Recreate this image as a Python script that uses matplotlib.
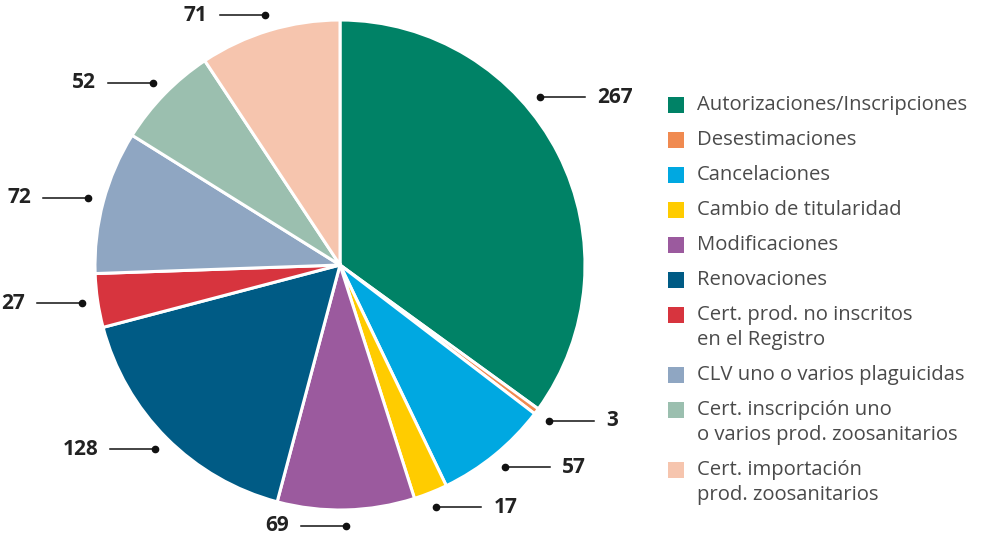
import matplotlib.pyplot as plt
import numpy as np
from matplotlib.patches import Rectangle

categorias = [
    "Autorizaciones/Inscripciones",
    "Desestimaciones",
    "Cancelaciones",
    "Cambio de titularidad",
    "Modificaciones",
    "Renovaciones",
    "Cert. prod. no inscritos\nen el Registro",
    "CLV uno o varios plaguicidas",
    "Cert. inscripción uno\no varios prod. zoosanitarios",
    "Cert. importación\nprod. zoosanitarios",
]
valores = [267, 3, 57, 17, 69, 128, 27, 72, 52, 71]
colores = ["#008266", "#F08A50", "#00A8E1", "#FFCC00", "#9B5A9E",
           "#005B85", "#D7343E", "#8FA6C2", "#9BBFAF", "#F6C5AE"]

W, H = 983, 539
fig = plt.figure(figsize=(W / 100, H / 100), dpi=100)
ax = fig.add_axes([0, 0, 1, 1])

cx, cy, R = 340, H - 265, 245
wedges, _ = ax.pie(valores, colors=colores, startangle=90, counterclock=False,
                   center=(cx, cy), radius=R, frame=True,
                   wedgeprops=dict(edgecolor="white", linewidth=2.2))
ax.set_xlim(0, W)
ax.set_ylim(0, H)
ax.set_aspect("equal")
ax.axis("off")

# etiquetas de valores
for i, (w, v) in enumerate(zip(wedges, valores)):
    ang = (w.theta1 + w.theta2) / 2
    if i == 0:
        ang += 13  # el 267 va un poco más arriba
    a = np.deg2rad(ang)
    dx, dy = cx + 1.065 * R * np.cos(a), cy + 1.065 * R * np.sin(a)
    izq = np.cos(a) < 0.1
    s = -1 if izq else 1
    ax.plot([dx, dx + s * 45], [dy, dy], color="#111111", lw=1.1)
    ax.plot(dx, dy, "o", color="#111111", ms=4.5)
    ax.text(dx + s * 57, dy, str(v), ha="right" if izq else "left", va="center",
            fontsize=15, fontweight="bold", color="#222222", family="Open Sans")

# leyenda
y = H - 105
for c, lab in zip(colores, categorias):
    ax.add_patch(Rectangle((668, y - 8), 16, 16, color=c, lw=0))
    n = lab.count("\n") + 1
    for k, linea in enumerate(lab.split("\n")):
        ax.text(697, y - k * 25, linea, ha="left", va="center", fontsize=14.6,
                color="#4a4a4a", family="Open Sans")
    y -= (n - 1) * 25 + 35

fig.savefig("out.png", dpi=100)
